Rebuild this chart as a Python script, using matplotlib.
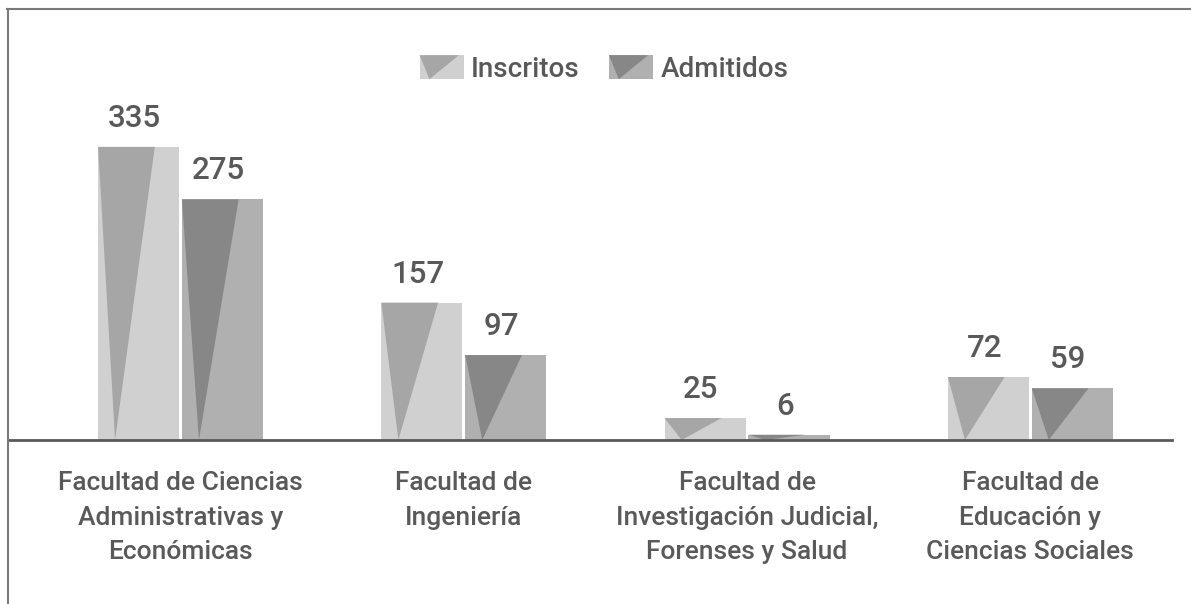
import matplotlib
matplotlib.use("Agg")
import matplotlib.pyplot as plt
from matplotlib.patches import Rectangle, Polygon, Patch
from matplotlib.legend_handler import HandlerBase
from matplotlib.lines import Line2D

# data
facultades = [
    "Facultad de Ciencias\nAdministrativas y\nEconómicas",
    "Facultad de\nIngeniería",
    "Facultad de\nInvestigación Judicial,\nForenses y Salud",
    "Facultad de\nEducación y\nCiencias Sociales",
]
inscritos = [335, 157, 25, 72]
admitidos = [275, 97, 6, 59]
series_names = ["Inscritos", "Admitidos"]

# light body, dark triangle
colores = {
    "Inscritos": ("#d0d0d0", "#a6a6a6"),
    "Admitidos": ("#b0b0b0", "#878787"),
}
text_color = "#595959"

plt.rcParams["font.family"] = ["Roboto", "DejaVu Sans"]
plt.rcParams["font.weight"] = "medium"

fig = plt.figure(figsize=(11.91, 6.04), dpi=100)
W, H = 1191.0, 604.0
# axes placed so the baseline sits where it does in the reference
ax = fig.add_axes([8 / W, 164 / H, (1172 - 8) / W, (596 - 164) / H])

bar_w = 0.286
offset = 0.148


def draw_bar(x_center, value, light, dark):
    left = x_center - bar_w / 2
    ax.add_patch(Rectangle((left, 0), bar_w, value, fc=light, ec="none"))
    tri = [(left, value), (left + 0.70 * bar_w, value), (left + 0.21 * bar_w, 0)]
    ax.add_patch(Polygon(tri, closed=True, fc=dark, ec="none"))
    ax.annotate(str(value), (x_center - 0.015, value), xytext=(0, 10),
                textcoords="offset points", ha="center", va="bottom",
                fontsize=22.5, color=text_color, fontweight="medium")


for i in range(len(facultades)):
    draw_bar(i - offset, inscritos[i], *colores["Inscritos"])
    draw_bar(i + offset, admitidos[i], *colores["Admitidos"])

ax.set_xlim(-0.609, 3.50)
ax.set_ylim(0, 432 / 0.875)

for s in ["top", "right", "left"]:
    ax.spines[s].set_visible(False)
ax.spines["bottom"].set_color(text_color)
ax.spines["bottom"].set_linewidth(2)
ax.set_yticks([])
ax.set_xticks(range(len(facultades)))
ax.set_xticklabels(facultades, fontsize=19, color=text_color, linespacing=1.55,
                   fontweight="medium")
ax.tick_params(axis="x", length=0, pad=22.5)


class TriHandler(HandlerBase):
    def __init__(self, light, dark):
        super().__init__()
        self.light = light
        self.dark = dark

    def create_artists(self, legend, orig_handle, xdescent, ydescent,
                       width, height, fontsize, trans):
        x0, y0 = -xdescent, -ydescent
        rect = Rectangle((x0, y0), width, height, fc=self.light, ec="none",
                         transform=trans)
        tri = Polygon([(x0, y0 + height), (x0 + 0.88 * width, y0 + height),
                       (x0 + 0.22 * width, y0)], closed=True, fc=self.dark,
                      ec="none", transform=trans)
        return [rect, tri]


handles = [Patch(label=n) for n in series_names]
hmap = {h: TriHandler(*colores[n]) for h, n in zip(handles, series_names)}
leg = fig.legend(handles=handles, handler_map=hmap, loc="center",
                 bbox_to_anchor=(604 / W, 1 - 69 / H), ncol=2, frameon=False,
                 prop={"size": 20, "weight": "medium"}, handlelength=1.6,
                 handleheight=0.95, handletextpad=0.25, columnspacing=1.05)
for t in leg.get_texts():
    t.set_color(text_color)

# outer frame (top and left edges only, like the reference)
fig.add_artist(Line2D([7 / W, 1], [1 - 8.5 / H, 1 - 8.5 / H],
                      transform=fig.transFigure, color="#7a7a7a", lw=1.5))
fig.add_artist(Line2D([8 / W, 8 / W], [0, 1 - 8.5 / H],
                      transform=fig.transFigure, color="#7a7a7a", lw=1.5))

fig.savefig("out.png", dpi=100, facecolor="white")
